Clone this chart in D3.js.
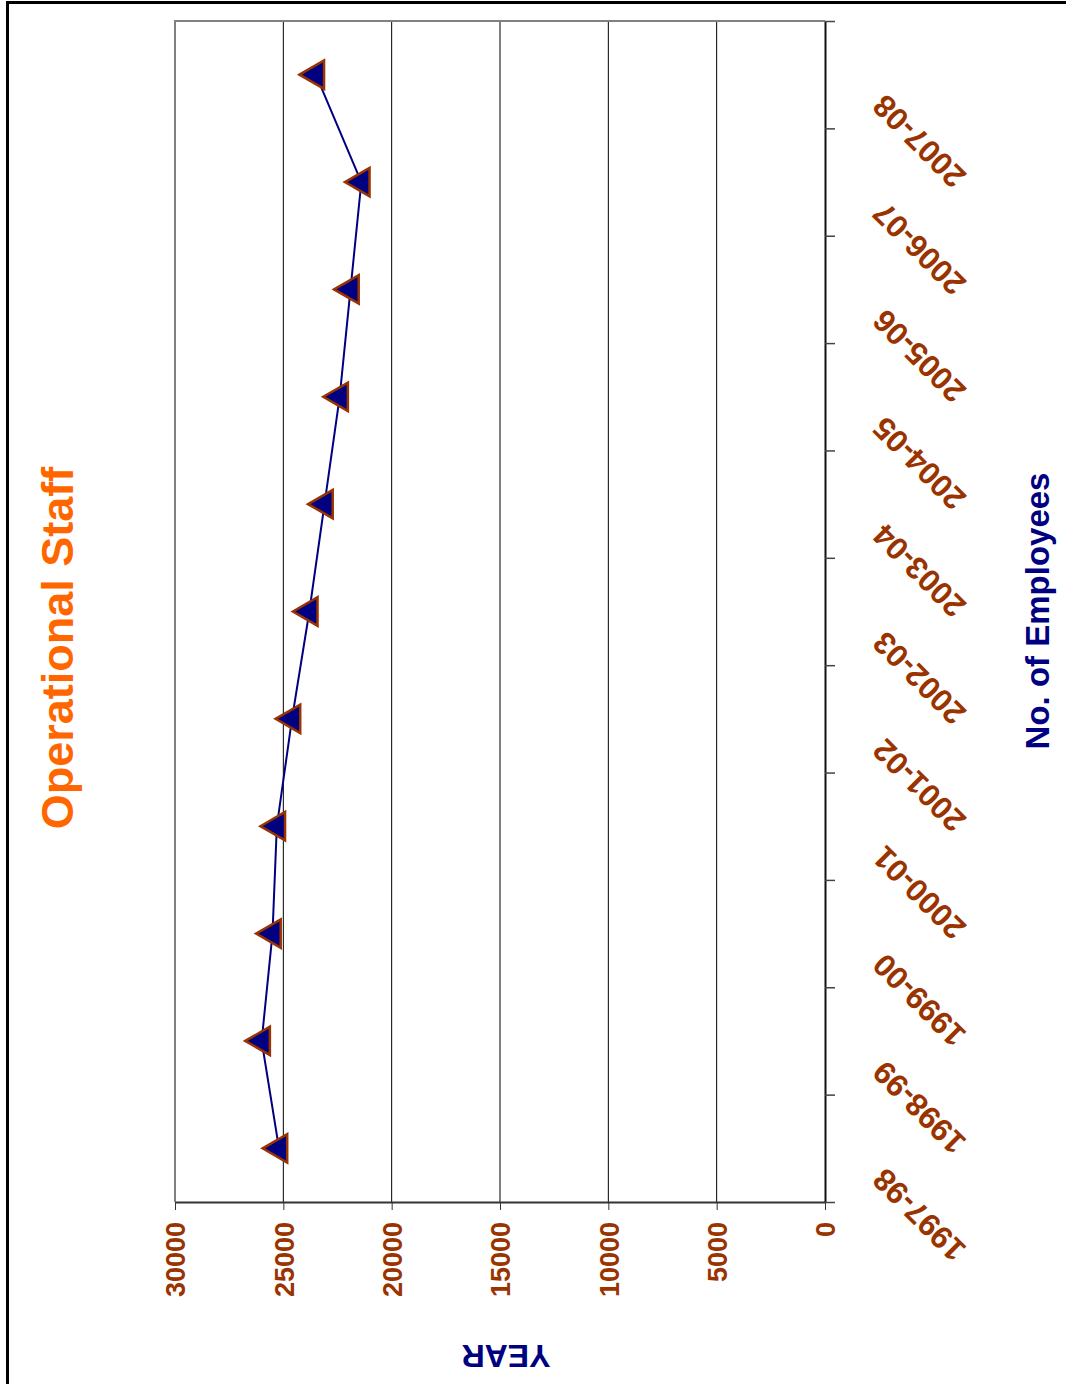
<!DOCTYPE html>
<html>
<head>
<meta charset="utf-8">
<script src="https://cdn.jsdelivr.net/npm/d3@7"></script>
<style>
  html, body { margin: 0; padding: 0; background: #fff; }
  svg { display: block; }
  text { font-family: "Liberation Sans", Arial, sans-serif; font-weight: bold; }
</style>
</head>
<body>
<div id="chart"></div>
<script>
// Operational staff head-count by financial year
const categories = ["1997-98", "1998-99", "1999-00", "2000-01", "2001-02", "2002-03",
                    "2003-04", "2004-05", "2005-06", "2006-07", "2007-08"];
const employees = [25200, 26000, 25500, 25300, 24600, 23800, 23100, 22400, 21900, 21400, 23500];
const valueTicks = [0, 5000, 10000, 15000, 20000, 25000, 30000];
const gridValues = [5000, 10000, 15000, 20000, 25000];

const W = 1066, H = 1384;
const plot = { left: 175, right: 825, top: 21, bottom: 1202 };

const svg = d3.select("#chart").append("svg")
  .attr("width", W).attr("height", H);

svg.append("rect").attr("width", W).attr("height", H).attr("fill", "#fff");

// outer frame (left and top edges)
svg.append("path")
  .attr("d", `M7.5,${H} V2.5 H${W}`)
  .attr("fill", "none").attr("stroke", "#000").attr("stroke-width", 3);

// value runs right-to-left, categories run bottom-to-top
const x = d3.scaleLinear().domain([0, 30000]).range([plot.right, plot.left]);
const y = d3.scaleBand().domain(categories).range([plot.bottom, plot.top]).padding(0);
const edge = d3.scaleLinear().domain([0, categories.length]).range([plot.bottom, plot.top]);

// gridlines
svg.append("g").selectAll("line").data(gridValues).join("line")
  .attr("x1", d => x(d)).attr("x2", d => x(d))
  .attr("y1", plot.top).attr("y2", plot.bottom)
  .attr("stroke", "#000").attr("stroke-width", 1);

// plot-area border (top and left)
svg.append("path")
  .attr("d", `M${plot.right},${plot.top} H${plot.left} V${plot.bottom}`)
  .attr("fill", "none").attr("stroke", "#808080").attr("stroke-width", 2);

// value axis along the bottom
const vAxis = svg.append("g")
  .attr("transform", `translate(0,${plot.bottom})`)
  .call(d3.axisBottom(x).tickValues(valueTicks).tickSize(8).tickSizeOuter(0).tickFormat(d3.format("d")));
vAxis.select(".domain").attr("stroke", "#333").attr("stroke-width", 2);
vAxis.selectAll(".tick line").attr("stroke", "#333").attr("stroke-width", 1);
vAxis.selectAll(".tick text")
  .attr("transform", "rotate(-90)")
  .attr("x", -20).attr("y", 0).attr("dy", "0.36em")
  .style("text-anchor", "end")
  .attr("fill", "#993300")
  .style("font-size", "27px");

// category axis along the right
const cAxis = svg.append("g")
  .attr("transform", `translate(${plot.right},0)`)
  .call(d3.axisRight(edge).tickValues(d3.range(0, categories.length + 1)).tickSize(10).tickSizeOuter(0).tickFormat(""));
cAxis.select(".domain").attr("stroke", "#111").attr("stroke-width", 2);
cAxis.selectAll(".tick line").attr("stroke", "#444").attr("stroke-width", 1.5);

// category labels
svg.append("g").selectAll("text").data(categories).join("text")
  .attr("transform", d => `translate(${plot.right + 61},${y(d) + y.bandwidth() / 2 + 18}) rotate(-135)`)
  .attr("text-anchor", "end")
  .attr("fill", "#993300")
  .style("font-size", "31.5px")
  .text(d => d);

// series line
const pts = categories.map((c, i) => [x(employees[i]), y(c) + y.bandwidth() / 2]);
svg.append("path")
  .datum(pts)
  .attr("d", d3.line())
  .attr("fill", "none").attr("stroke", "#000080").attr("stroke-width", 2);

// triangle markers pointing left
const tri = d3.symbol().type(d3.symbolTriangle).size(350);
svg.append("g").selectAll("path").data(pts).join("path")
  .attr("d", tri)
  .attr("transform", d => `translate(${d[0]},${d[1]}) rotate(-90)`)
  .attr("fill", "#000080").attr("stroke", "#993300").attr("stroke-width", 2.5)
  .attr("stroke-linejoin", "miter");

// titles
svg.append("text")
  .attr("transform", "translate(73,648) rotate(-90)")
  .attr("text-anchor", "middle")
  .attr("fill", "#FF6600")
  .style("font-size", "45px")
  .text("Operational Staff");

svg.append("text")
  .attr("transform", "translate(1049,611) rotate(-90)")
  .attr("text-anchor", "middle")
  .attr("fill", "#000080")
  .style("font-size", "33px")
  .text("No. of Employees");

svg.append("text")
  .attr("transform", "translate(506,1345) rotate(180)")
  .attr("text-anchor", "middle")
  .attr("fill", "#000080")
  .style("font-size", "32px")
  .text("YEAR");
</script>
</body>
</html>
